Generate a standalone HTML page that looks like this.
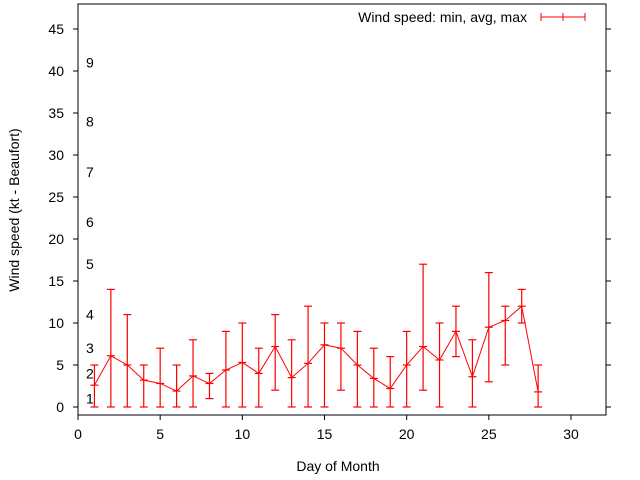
<!DOCTYPE html>
<html><head><meta charset="utf-8"><style>body{margin:0;background:#fff}svg{display:block;font-family:"Liberation Sans",sans-serif}</style></head>
<body>
<svg id="chart" width="640" height="480" xmlns="http://www.w3.org/2000/svg"></svg>
<script>
const days=[1,2,3,4,5,6,7,8,9,10,11,12,13,14,15,16,17,18,19,20,21,22,23,24,25,26,27,28];
const avgVals=[2.6,6.1,5,3.2,2.8,1.9,3.7,2.8,4.4,5.3,4,7.2,3.5,5.2,7.4,7,5,3.4,2.2,5,7.2,5.6,9,3.6,9.5,10.3,12,1.8];
const minVals=[0,0,0,0,0,0,0,1,0,0,0,2,0,0,0,2,0,0,0,0,2,0,6,0,3,5,10,0];
const maxVals=[5,14,11,5,7,5,8,4,9,10,7,11,8,12,10,10,9,7,6,9,17,10,12,8,16,12,14,5];
const xTicks=[0,5,10,15,20,25,30];
const yTicks=[0,5,10,15,20,25,30,35,40,45];
const beaufortLabels=["1","2","3","4","5","6","7","8","9"];
const beaufortKt=[1,4,7,11,17,22,28,34,41];
const L=78,R=606,T=4,B=415;
const X=v=>78+v*(571-78)/30;
const Y=v=>407-v*8.4;
const svg=document.getElementById('chart');
const NS='http://www.w3.org/2000/svg';
function mk(tag,attrs,name,text){const e=document.createElementNS(NS,tag);for(const k in attrs)e.setAttribute(k,attrs[k]);


if(text!==undefined)e.textContent=text;svg.appendChild(e);return e;}
mk('rect',{x:L,y:T,width:R-L,height:B-T,fill:'none',stroke:'#000','stroke-width':1},'plot-frame');
xTicks.forEach(t=>{const x=X(t);mk('line',{x1:x,y1:B,x2:x,y2:B+5,stroke:'#000'},'x-tick');
mk('text',{x:x,y:B+24,'text-anchor':'middle','font-size':14,fill:'#000'},'x-tick-label',String(t));});
yTicks.forEach(t=>{const y=Y(t);mk('line',{x1:L-5,y1:y,x2:L,y2:y,stroke:'#000'},'y-tick');
mk('line',{x1:R,y1:y,x2:R+5,y2:y,stroke:'#000'},'y-tick-right');
mk('text',{x:L-14,y:y+5,'text-anchor':'end','font-size':14,fill:'#000'},'y-tick-label',String(t));});
beaufortLabels.forEach((b,i)=>{mk('text',{x:86,y:Y(beaufortKt[i])+5,'font-size':14,fill:'#000'},'beaufort-label',b);});
mk('text',{x:338,y:471,'text-anchor':'middle','font-size':14},'x-axis-title','Day of Month');
mk('text',{x:0,y:0,'text-anchor':'middle','font-size':14,transform:'translate(19,210) rotate(-90)'},'y-axis-title','Wind speed (kt - Beaufort)');
let pts=days.map((d,i)=>X(d)+','+Y(avgVals[i])).join(' ');
mk('polyline',{points:pts,fill:'none',stroke:'#f00','stroke-width':1},'avg-line');
days.forEach((d,i)=>{const x=X(d);
mk('line',{x1:x,y1:Y(minVals[i]),x2:x,y2:Y(maxVals[i]),stroke:'#f00','stroke-width':1.2},'error-bar');
mk('line',{x1:x-4,y1:Y(minVals[i]),x2:x+4,y2:Y(minVals[i]),stroke:'#f00','stroke-width':1.2},'error-cap-min');
mk('line',{x1:x-4,y1:Y(maxVals[i]),x2:x+4,y2:Y(maxVals[i]),stroke:'#f00','stroke-width':1.2},'error-cap-max');
mk('line',{x1:x-4,y1:Y(avgVals[i]),x2:x+4,y2:Y(avgVals[i]),stroke:'#f00','stroke-width':1.2},'avg-point');});
mk('text',{x:527,y:22,'text-anchor':'end','font-size':14},'legend-label','Wind speed: min, avg, max');
mk('line',{x1:541,y1:17,x2:585,y2:17,stroke:'#f00'},'legend-line');
[541,563,585].forEach(x=>mk('line',{x1:x,y1:13,x2:x,y2:21,stroke:'#f00'},'legend-cap'));
</script>
</body></html>
